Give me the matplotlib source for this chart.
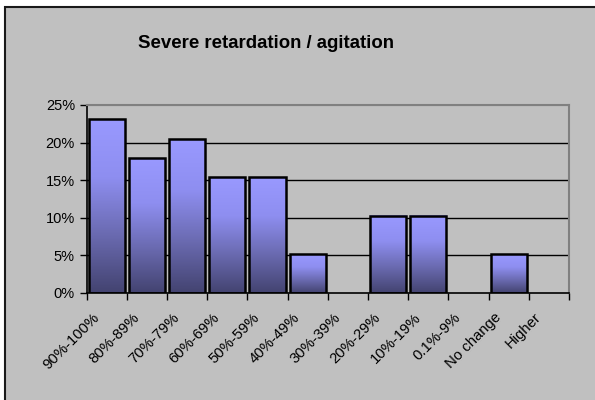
import matplotlib.pyplot as plt
import matplotlib.transforms as mtransforms
import numpy as np
from matplotlib.colors import LinearSegmentedColormap
from matplotlib.patches import Rectangle
from matplotlib.ticker import PercentFormatter

plt.rcParams['font.family'] = ['Liberation Sans', 'DejaVu Sans']

categories = ['90%-100%', '80%-89%', '70%-79%', '60%-69%', '50%-59%', '40%-49%',
              '30%-39%', '20%-29%', '10%-19%', '0.1%-9%', 'No change', 'Higher']
shares = [0.2308, 0.1795, 0.2051, 0.1538, 0.1538, 0.0513,
          0.0, 0.1026, 0.1026, 0.0, 0.0513, 0.0]

fig = plt.figure(figsize=(5.95, 4.0), dpi=100)
fig.patch.set_facecolor('white')
# grey chart area with dark frame on top/left
fig.patches.append(Rectangle((5 / 595, -0.01), 1.0, (400 - 7) / 400 + 0.01,
                             transform=fig.transFigure, facecolor='#C0C0C0',
                             edgecolor='#1a1a1a', linewidth=1.5, zorder=-10))

ax = fig.add_axes([86.7 / 595, (400 - 292.7) / 400, (569 - 86.7) / 595, (292.7 - 105) / 400])
ax.set_facecolor('#C0C0C0')

cmap = LinearSegmentedColormap.from_list('bar', ['#434370', '#6a6ab0', '#8e8ef0', '#9999FF'])
grad = np.linspace(0, 1, 256).reshape(-1, 1)
x = np.arange(len(categories)) + 0.5
w = 0.9
for xi, v in zip(x, shares):
    if v <= 0:
        continue
    ax.imshow(grad, cmap=cmap, origin='lower', aspect='auto',
              extent=(xi - w / 2, xi + w / 2, 0, v), zorder=2, interpolation='bilinear')
    ax.add_patch(Rectangle((xi - w / 2, 0), w, v, fill=False, edgecolor='black',
                           linewidth=1.8, zorder=3))

ax.set_xlim(0, len(categories))
ax.set_ylim(0, 0.25)
ax.set_yticks(np.arange(0, 0.26, 0.05))
ax.yaxis.set_major_formatter(PercentFormatter(1.0, decimals=0))
ax.set_xticks(np.arange(0, len(categories) + 1))
ax.set_xticklabels([])
ax.set_xticks(x, minor=True)
ax.set_xticklabels(categories, minor=True, rotation=45, ha='right',
                   rotation_mode='anchor', fontsize=10.7)
ax.tick_params(axis='x', which='minor', length=0, pad=4)
ax.tick_params(axis='x', which='major', direction='out', length=5, width=1, color='black')
ax.tick_params(axis='y', direction='out', length=5, width=1, labelsize=10.5, color='black')
shift = mtransforms.ScaledTranslation(-15 / 100, -12 / 100, fig.dpi_scale_trans)
for lab in ax.get_xticklabels(minor=True):
    lab.set_transform(lab.get_transform() + shift)

for yv in [0.05, 0.10, 0.15, 0.20]:
    ax.axhline(yv, color='black', linewidth=1, zorder=1)
ax.axhline(0.25, color='#808080', linewidth=1.5, zorder=1)

ax.spines['left'].set_color('black')
ax.spines['bottom'].set_color('black')
ax.spines['left'].set_linewidth(1.2)
ax.spines['bottom'].set_linewidth(1.2)
ax.spines['right'].set_color('#808080')
ax.spines['top'].set_color('#808080')
ax.spines['right'].set_linewidth(1.5)
ax.spines['top'].set_linewidth(1.5)

fig.text(266 / 595, 1 - 44 / 400, 'Severe retardation / agitation', ha='center', va='center',
         fontsize=13.4, fontweight='bold')

fig.savefig('out.png', dpi=100)
